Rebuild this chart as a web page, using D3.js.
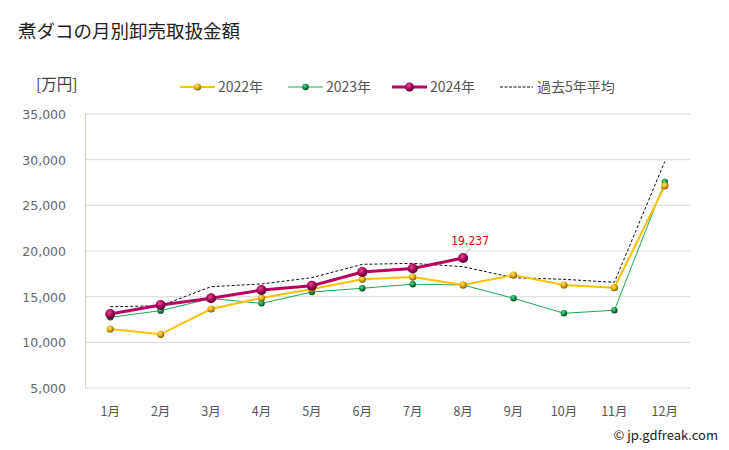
<!DOCTYPE html>
<html><head><meta charset="utf-8">
<script src="https://cdn.jsdelivr.net/npm/d3@7/dist/d3.min.js"></script>
<style>
body{margin:0;background:#fff;}
text{font-family:"Noto Sans CJK JP","Noto Sans",sans-serif;}
</style></head>
<body><svg id="c" width="729" height="450"></svg>
<script>
const months = ["1月","2月","3月","4月","5月","6月","7月","8月","9月","10月","11月","12月"];
const yTicks = [5000,10000,15000,20000,25000,30000,35000];
const v2022 = [11460,10880,13650,14860,15840,16900,17150,16280,17370,16280,15980,27150];
const v2023 = [12740,13470,14800,14270,15510,15920,16360,16280,14820,13180,13510,27560];
const v2024 = [13100,14090,14820,15730,16200,17700,18080,19237];
const vAvg  = [13900,14000,16090,16390,17080,18540,18650,18280,17080,16900,16570,29800];

const svg = d3.select("#c");
const L=85,R=690,T=114,B=388;
const x = d3.scaleBand().domain(months).range([L,R]);
const y = d3.scaleLinear().domain([5000,35000]).range([B,T]);
const cx = m => x(m)+x.bandwidth()/2;

const defs = svg.append("defs");
function grad(id,light,mid,dark){
  const g=defs.append("radialGradient").attr("id",id).attr("cx","40%").attr("cy","35%").attr("r","65%");
  g.append("stop").attr("offset","0%").attr("stop-color",light);
  g.append("stop").attr("offset","55%").attr("stop-color",mid);
  g.append("stop").attr("offset","100%").attr("stop-color",dark);
}
grad("gY","#ffe680","#e0a800","#7a5a00");
grad("gG","#5fd890","#11904a","#04411f");
grad("gM","#e0508f","#a8005a","#4a0028");

svg.append("text").attr("x",18).attr("y",38).attr("font-size",18.5).attr("fill","#222").text("煮ダコの月別卸売取扱金額");
svg.append("text").attr("x",36).attr("y",90).attr("font-size",15.5).attr("fill","#444").text("[万円]");

// gridlines
svg.append("g").selectAll("line").data(yTicks).join("line")
  .attr("x1",L).attr("x2",R).attr("y1",d=>y(d)).attr("y2",d=>y(d))
  .attr("stroke","#d9d9d9").attr("stroke-width",1);
svg.append("line").attr("x1",L+0.5).attr("x2",L+0.5).attr("y1",T).attr("y2",B).attr("stroke","#d9d2b4");

svg.append("g").selectAll("text").data(yTicks).join("text")
  .attr("x",66).attr("y",d=>y(d)+5).attr("text-anchor","end").attr("fill","#666")
  .style("font-family","'DejaVu Sans',sans-serif").attr("font-size",12.5)
  .text(d=>d3.format(",")(d));

svg.append("g").selectAll("text").data(months).join("text")
  .attr("x",d=>cx(d)).attr("y",416).attr("text-anchor","middle").attr("font-size",12.5).attr("fill","#555").text(d=>d);

const line = d3.line().x((d,i)=>cx(months[i])).y(d=>y(d));

svg.append("path").datum(vAvg).attr("d",line).attr("fill","none").attr("stroke","#111").attr("stroke-width",1).attr("stroke-dasharray","3,2");

function series(data,color,w,r,g){
  svg.append("path").datum(data).attr("d",line).attr("fill","none").attr("stroke",color).attr("stroke-width",w);
  svg.append("g").selectAll("circle").data(data).join("circle")
    .attr("cx",(d,i)=>cx(months[i])).attr("cy",d=>y(d)).attr("r",r).attr("fill",`url(#${g})`);
}
series(v2023,"#1aa85a",1,3.2,"gG");
series(v2022,"#ffc000",2,3.6,"gY");
series(v2024,"#b8005f",3,5,"gM");

// annotation
const last=v2024.length-1;
svg.append("line").attr("x1",cx(months[last])+3).attr("y1",y(v2024[last])-4).attr("x2",cx(months[last])+7).attr("y2",y(v2024[last])-10).attr("stroke","#bbb");
svg.append("text").attr("x",cx(months[last])+7).attr("y",y(v2024[last])-13).attr("text-anchor","middle")
  .attr("font-size",12).attr("fill","#e00").style("font-family","'Liberation Sans Narrow','DejaVu Sans Condensed',sans-serif").text(d3.format(",")(v2024[last]));

// legend
const leg=[{t:"2022年",c:"#ffc000",w:2,r:3.6,g:"gY",x:180},{t:"2023年",c:"#1aa85a",w:1,r:3.2,g:"gG",x:288},{t:"2024年",c:"#b8005f",w:3,r:4.5,g:"gM",x:392},{t:"過去5年平均",c:"#111",w:1,dash:true,x:500}];
leg.forEach(l=>{
  const ly=87;
  const ln=svg.append("line").attr("x1",l.x).attr("x2",l.x+35).attr("y1",ly).attr("y2",ly).attr("stroke",l.c).attr("stroke-width",l.w);
  if(l.dash) ln.attr("stroke-dasharray","3,1.5").attr("x2",l.x+33);
  else svg.append("circle").attr("cx",l.x+17.5).attr("cy",ly).attr("r",l.r).attr("fill",`url(#${l.g})`);
  svg.append("text").attr("x",l.x+(l.dash?37:38)).attr("y",ly+5).attr("font-size",14).attr("fill","#555").text(l.t);
});

svg.append("text").attr("x",718).attr("y",440).attr("text-anchor","end").attr("font-size",13).attr("fill","#222").text("© jp.gdfreak.com");
</script></body></html>
